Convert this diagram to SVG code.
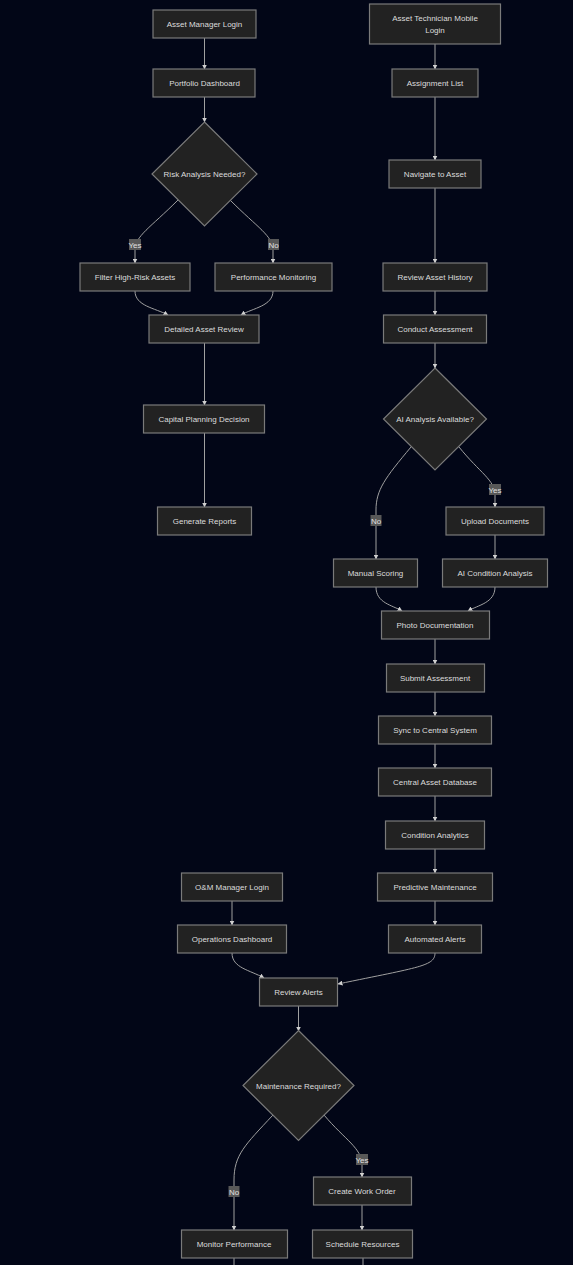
<svg xmlns="http://www.w3.org/2000/svg" width="573" height="1265" viewBox="0 0 573 1265">
<style>
.n{fill:#222222;stroke:#7a7a7a;stroke-width:1.2}
.t{font-family:"Liberation Sans","DejaVu Sans",sans-serif;font-size:8px;fill:#dcdcdc;text-anchor:middle}
.e{fill:none;stroke:#a0a0a0;stroke-width:1}
.lb{fill:#585858}
.lt{font-family:"Liberation Sans","DejaVu Sans",sans-serif;font-size:8px;fill:#e0e0e0;text-anchor:middle}
</style>
<defs>
<marker id="ah" viewBox="0 0 10 10" refX="9" refY="5" markerWidth="5" markerHeight="5" orient="auto">
<path d="M0,0 L10,5 L0,10 z" fill="#d0d0d0"/>
</marker>
</defs>
<rect width="573" height="1265" fill="#020617"/>
<g id="connectors">
<path class="e" marker-end="url(#ah)" d="M204.5,38 L204.5,69"/>
<path class="e" marker-end="url(#ah)" d="M204.5,97 L204.5,122"/>
<path class="e" marker-end="url(#ah)" d="M178,200 C150,228 135,236 135,250 L135,263"/>
<path class="e" marker-end="url(#ah)" d="M230,200 C258,228 273,236 273,250 L273,263"/>
<path class="e" marker-end="url(#ah)" d="M135,291 C135,306 155,308 168,315"/>
<path class="e" marker-end="url(#ah)" d="M273,291 C273,306 253,308 241,315"/>
<path class="e" marker-end="url(#ah)" d="M204.5,343 L204.5,405"/>
<path class="e" marker-end="url(#ah)" d="M204.5,433 L204.5,507"/>
<path class="e" marker-end="url(#ah)" d="M435,44 L435,69"/>
<path class="e" marker-end="url(#ah)" d="M435,97 L435,160"/>
<path class="e" marker-end="url(#ah)" d="M435,188 L435,263"/>
<path class="e" marker-end="url(#ah)" d="M435,291 L435,315"/>
<path class="e" marker-end="url(#ah)" d="M435,343 L435,368"/>
<path class="e" marker-end="url(#ah)" d="M411,447 C385,478 376,490 376,510 L376,559"/>
<path class="e" marker-end="url(#ah)" d="M459,447 C480,473 495,480 495,495 L495,507"/>
<path class="e" marker-end="url(#ah)" d="M495,535 L495,559"/>
<path class="e" marker-end="url(#ah)" d="M376,587 C376,603 392,605 402,611"/>
<path class="e" marker-end="url(#ah)" d="M495,587 C495,603 478,605 468,611"/>
<path class="e" marker-end="url(#ah)" d="M435,639 L435,664"/>
<path class="e" marker-end="url(#ah)" d="M435,692 L435,716"/>
<path class="e" marker-end="url(#ah)" d="M435,744 L435,768"/>
<path class="e" marker-end="url(#ah)" d="M435,796 L435,821"/>
<path class="e" marker-end="url(#ah)" d="M435,849 L435,873"/>
<path class="e" marker-end="url(#ah)" d="M435,901 L435,925"/>
<path class="e" marker-end="url(#ah)" d="M435,953 C435,966 420,967 338,984"/>
<path class="e" marker-end="url(#ah)" d="M232,901 L232,925"/>
<path class="e" marker-end="url(#ah)" d="M232,953 C232,968 250,970 264,978"/>
<path class="e" marker-end="url(#ah)" d="M298.5,1006 L298.5,1031"/>
<path class="e" marker-end="url(#ah)" d="M273,1115 C245,1145 234,1155 234,1180 L234,1230"/>
<path class="e" marker-end="url(#ah)" d="M324,1115 C345,1140 362,1148 362,1165 L362,1177"/>
<path class="e" marker-end="url(#ah)" d="M362,1205 L362,1230"/>
<path class="e" d="M234,1258 L234,1265"/>
<path class="e" d="M363,1258 L363,1265"/>
<rect class="lb" x="129" y="239" width="12" height="11"/>
<text class="lt" x="135" y="247.5">Yes</text>
<rect class="lb" x="268" y="239" width="11" height="11"/>
<text class="lt" x="273.5" y="247.5">No</text>
<rect class="lb" x="370.5" y="515" width="11" height="11"/>
<text class="lt" x="376" y="523.5">No</text>
<rect class="lb" x="489" y="484" width="12" height="11"/>
<text class="lt" x="495" y="492.5">Yes</text>
<rect class="lb" x="228.5" y="1186" width="11" height="11"/>
<text class="lt" x="234" y="1194.5">No</text>
<rect class="lb" x="356" y="1154" width="12" height="11"/>
<text class="lt" x="362" y="1162.5">Yes</text>
</g>
<g id="n_aml"><rect class="n" x="153" y="10" width="103" height="28"/><text class="t" x="204.5" y="27">Asset Manager Login</text></g>
<g id="n_pd"><rect class="n" x="153" y="69" width="102" height="28"/><text class="t" x="204.5" y="86">Portfolio Dashboard</text></g>
<g id="n_risk"><polygon class="n" points="204.5,122 257,174 204.5,226 152,174"/><text class="t" x="204.5" y="177">Risk Analysis Needed?</text></g>
<g id="n_filter"><rect class="n" x="80" y="263" width="110" height="28"/><text class="t" x="135" y="280">Filter High-Risk Assets</text></g>
<g id="n_perf"><rect class="n" x="215" y="263" width="117" height="28"/><text class="t" x="273.5" y="280">Performance Monitoring</text></g>
<g id="n_dar"><rect class="n" x="149" y="315" width="110" height="28"/><text class="t" x="204" y="332">Detailed Asset Review</text></g>
<g id="n_cpd"><rect class="n" x="143.5" y="405" width="121" height="28"/><text class="t" x="204" y="422">Capital Planning Decision</text></g>
<g id="n_gr"><rect class="n" x="157.5" y="507" width="94" height="28"/><text class="t" x="204.5" y="524">Generate Reports</text></g>
<g id="n_tml"><rect class="n" x="369.5" y="4" width="131" height="40"/><text class="t" x="435" y="21">Asset Technician Mobile</text><text class="t" x="435" y="33">Login</text></g>
<g id="n_al"><rect class="n" x="392" y="69" width="86" height="28"/><text class="t" x="435" y="86">Assignment List</text></g>
<g id="n_nav"><rect class="n" x="389" y="160" width="92" height="28"/><text class="t" x="435" y="177">Navigate to Asset</text></g>
<g id="n_rah"><rect class="n" x="383" y="263" width="104" height="28"/><text class="t" x="435" y="280">Review Asset History</text></g>
<g id="n_ca"><rect class="n" x="383.5" y="315" width="103" height="28"/><text class="t" x="435" y="332">Conduct Assessment</text></g>
<g id="n_ai"><polygon class="n" points="435,368 486.5,419 435,470 383.5,419"/><text class="t" x="435" y="422">AI Analysis Available?</text></g>
<g id="n_ud"><rect class="n" x="446" y="507" width="98" height="28"/><text class="t" x="495" y="524">Upload Documents</text></g>
<g id="n_ms"><rect class="n" x="333.5" y="559" width="84" height="28"/><text class="t" x="375.5" y="576">Manual Scoring</text></g>
<g id="n_aica"><rect class="n" x="442.5" y="559" width="105" height="28"/><text class="t" x="495" y="576">AI Condition Analysis</text></g>
<g id="n_photo"><rect class="n" x="381.5" y="611" width="108" height="28"/><text class="t" x="435" y="628">Photo Documentation</text></g>
<g id="n_sub"><rect class="n" x="386.5" y="664" width="98" height="28"/><text class="t" x="435" y="681">Submit Assessment</text></g>
<g id="n_sync"><rect class="n" x="378.5" y="716" width="113" height="28"/><text class="t" x="435" y="733">Sync to Central System</text></g>
<g id="n_cad"><rect class="n" x="378.5" y="768" width="113" height="28"/><text class="t" x="435" y="785">Central Asset Database</text></g>
<g id="n_cond"><rect class="n" x="385.5" y="821" width="99" height="28"/><text class="t" x="435" y="838">Condition Analytics</text></g>
<g id="n_pm"><rect class="n" x="377.5" y="873" width="115" height="28"/><text class="t" x="435" y="890">Predictive Maintenance</text></g>
<g id="n_aa"><rect class="n" x="388.5" y="925" width="93" height="28"/><text class="t" x="435" y="942">Automated Alerts</text></g>
<g id="n_oml"><rect class="n" x="181.5" y="873" width="101" height="28"/><text class="t" x="232" y="890">O&amp;M Manager Login</text></g>
<g id="n_od"><rect class="n" x="177.5" y="925" width="109" height="28"/><text class="t" x="232" y="942">Operations Dashboard</text></g>
<g id="n_ra"><rect class="n" x="259.5" y="978" width="78" height="28"/><text class="t" x="298.5" y="995">Review Alerts</text></g>
<g id="n_mr"><polygon class="n" points="298.5,1030.5 354,1085.5 298.5,1140.5 243,1085.5"/><text class="t" x="298.5" y="1088.5">Maintenance Required?</text></g>
<g id="n_cwo"><rect class="n" x="313.5" y="1177" width="98" height="28"/><text class="t" x="362" y="1194">Create Work Order</text></g>
<g id="n_mp"><rect class="n" x="181.5" y="1230" width="106" height="28"/><text class="t" x="234" y="1247">Monitor Performance</text></g>
<g id="n_sr"><rect class="n" x="312.5" y="1230" width="100" height="28"/><text class="t" x="362.5" y="1247">Schedule Resources</text></g>
</svg>
